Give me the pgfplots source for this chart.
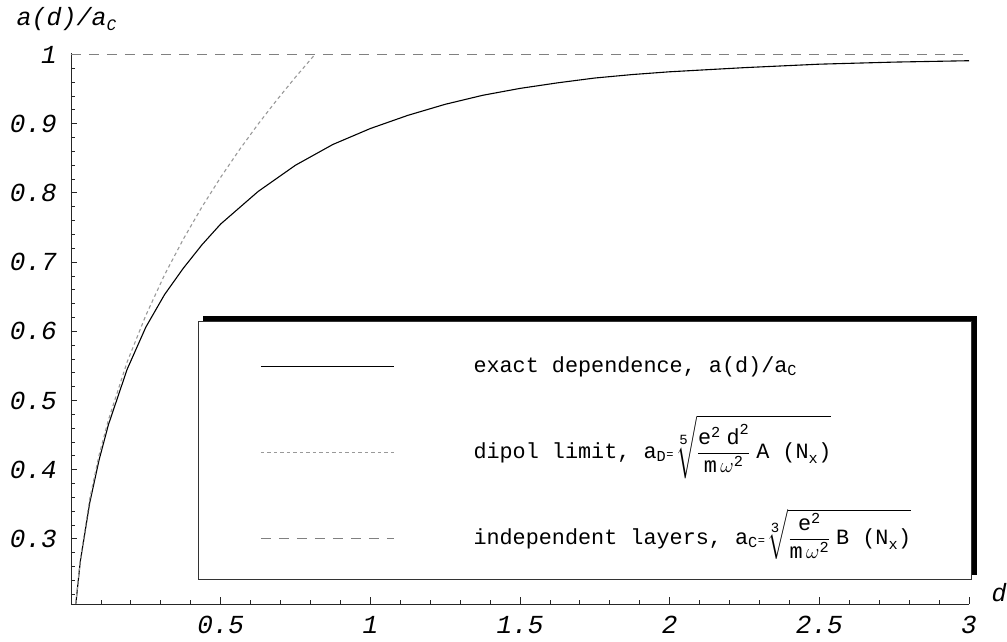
\documentclass[border=0pt]{standalone}
\usepackage{amsmath}
\usepackage{fontspec}
\newfontfamily\monofont{Liberation Mono}
\usepackage{pgfplots}
\pgfplotsset{compat=1.18}
\pgfdeclarelayer{bg}
\pgfsetlayers{bg,main}
\newcommand\mt[1]{\text{\monofont #1}}
\newcommand\idx[1]{\text{\monofont\fontsize{14}{14}\selectfont #1}}
\newcommand\tickfont{\monofont\itshape\fontsize{26}{26}\selectfont}
\newcommand\labfont{\monofont\itshape\fontsize{25}{25}\selectfont}
\newcommand\legfont{\monofont\fontsize{21.8}{24}\selectfont}
\begin{document}
\begin{tikzpicture}
\begin{axis}[
  at={(0pt,0pt)}, anchor=south west,
  scale only axis, width=898pt, height=551pt,
  xmin=0, xmax=3, ymin=0.20592, ymax=1.00217,
  axis x line=bottom, axis y line=left,
  axis line style={-, line width=0.9pt, black!85},
  tick align=inside,
  major tick length=6.5pt, minor tick length=4pt,
  every tick/.style={line width=0.8pt, black!85},
  xtick={0.5,1,1.5,2,2.5,3}, xticklabels={0.5,1,1.5,2,2.5,3},
  minor xtick={0.1,0.2,0.3,0.4,0.6,0.7,0.8,0.9,1.1,1.2,1.3,1.4,1.6,1.7,1.8,1.9,2.1,2.2,2.3,2.4,2.6,2.7,2.8,2.9},
  ytick={0.3,0.4,0.5,0.6,0.7,0.8,0.9,1}, yticklabels={0.3,0.4,0.5,0.6,0.7,0.8,0.9,1},
  minor ytick={0.22,0.24,0.26,0.28,0.32,0.34,0.36,0.38,0.42,0.44,0.46,0.48,0.52,0.54,0.56,0.58,0.62,0.64,0.66,0.68,0.72,0.74,0.76,0.78,0.82,0.84,0.86,0.88,0.92,0.94,0.96,0.98},
  xticklabel style={font=\tickfont, anchor=base, inner sep=0pt, yshift=-30pt},
  yticklabel style={font=\tickfont, anchor=east, inner sep=0pt, xshift=-14pt},
  legend cell align=left,
  legend image code/.code={\draw[#1] (0pt,-2pt) -- (133pt,-2pt);},
  legend style={name=leg, at={(0.14143,0.04356)}, anchor=south west,
    draw=black!80, line width=0.8pt, fill=white,
    inner xsep=62pt, inner ysep=0pt, column sep=79pt, row sep=0pt,
    nodes={inner sep=0pt, text height=51pt, text depth=35pt, font=\legfont}},
]
\addplot[black, line width=1.1pt] coordinates {
(0,0) (0.015625,0.204) (0.03125,0.268) (0.0625,0.352) (0.09375,0.414) (0.125,0.465)
(0.1875,0.545) (0.25,0.606) (0.3125,0.653) (0.375,0.691) (0.4375,0.725) (0.5,0.755)
(0.625,0.802) (0.75,0.840) (0.875,0.870) (1,0.893) (1.125,0.912) (1.25,0.928)
(1.375,0.941) (1.5,0.951) (1.625,0.959) (1.75,0.966) (1.875,0.971) (2,0.975)
(2.25,0.981) (2.5,0.986) (2.75,0.989) (3,0.991)};
\addlegendentry{\makebox[436pt][l]{exact dependence, a(d)/a$_{\mt{C}}$}}
\addplot[black!40, line width=1.1pt, dash pattern=on 3.5pt off 3pt] coordinates {
(0,0) (0.0078125,0.156) (0.015625,0.2056) (0.03125,0.271) (0.0625,0.358) (0.09375,0.421)
(0.125,0.472) (0.1875,0.5556) (0.25,0.623) (0.3125,0.6815) (0.375,0.733) (0.4375,0.7797)
(0.5,0.8225) (0.5625,0.8622) (0.625,0.8993) (0.6875,0.9342) (0.75,0.9673) (0.8125,0.9988) (0.815,1)};
\addlegendentry{\makebox[436pt][l]{dipol limit, a$_{\mt{D}}${\fontsize{12}{12}\selectfont=}$\sqrt[\idx{5}]{\dfrac{\mt{e}^{\mt{2}}\;\mt{d}^{\mt{2}}}{\mt{m}\,\omega^{\mt{2}}}\;\mt{A (N}_{\mt{x}}\mt{)}}$}}
\addplot[black!50, line width=1pt, dash pattern=on 10pt off 8pt] coordinates {(0,1) (3,1)};
\addlegendentry{\makebox[436pt][l]{independent layers, a$_{\mt{C}}${\fontsize{12}{12}\selectfont=}$\sqrt[\idx{3}]{\dfrac{\mt{e}^{\mt{2}}}{\mt{m}\,\omega^{\mt{2}}}\;\mt{B (N}_{\mt{x}}\mt{)}}$}}
\end{axis}
\begin{pgfonlayer}{bg}
\fill[black] ([shift={(5pt,5pt)}]leg.south west) rectangle ([shift={(5pt,5pt)}]leg.north east);
\end{pgfonlayer}
\node[anchor=base west, font=\labfont] at (-58pt,578pt) {a(d)/a\raisebox{-5pt}{\fontsize{16}{16}\selectfont C}};
\node[anchor=base west, font=\labfont] at (917pt,2pt) {d};
\pgfresetboundingbox
\path (-71pt,-38pt) rectangle (936pt,604pt);
\end{tikzpicture}
\end{document}
